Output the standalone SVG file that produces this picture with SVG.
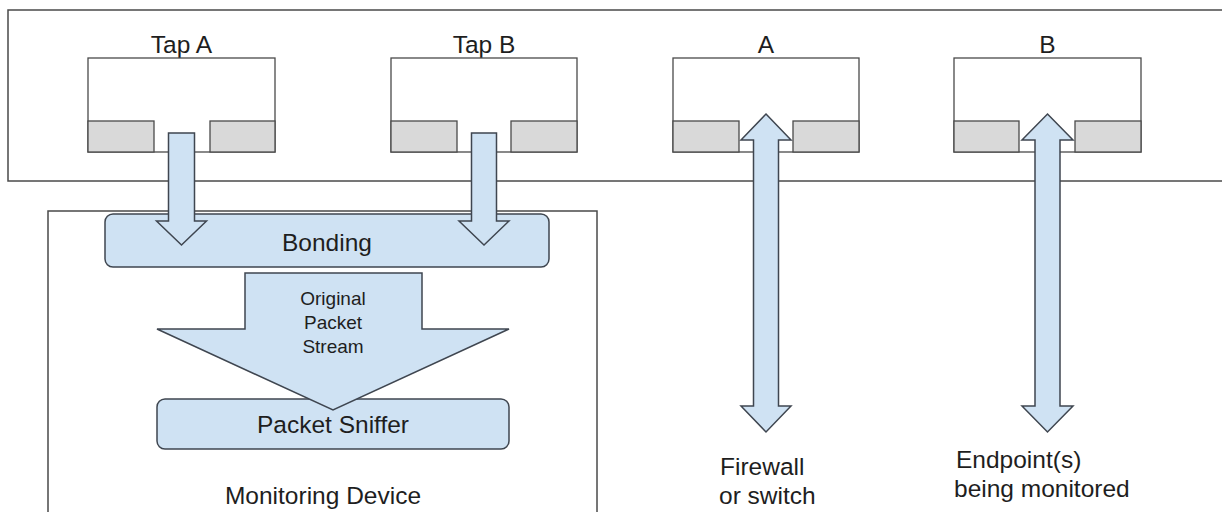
<svg xmlns="http://www.w3.org/2000/svg" width="1222" height="512" viewBox="0 0 1222 512">
<style>
.frame{fill:none;stroke:#4a4a4a;stroke-width:1.5}
.box{fill:#ffffff;stroke:#4a4a4a;stroke-width:1.3}
.port{fill:#d9d9d9;stroke:#4a4a4a;stroke-width:1.3}
.blue{fill:#cfe2f3;stroke:#3f4650;stroke-width:1.5;stroke-linejoin:miter}
.t{font-family:"Liberation Sans",Arial,sans-serif;font-size:24.5px;fill:#1e1e1e;text-anchor:middle}
.s{font-family:"Liberation Sans",Arial,sans-serif;font-size:19px;fill:#1e1e1e;text-anchor:middle}
.l{font-family:"Liberation Sans",Arial,sans-serif;font-size:24.5px;fill:#1e1e1e}
</style>
<rect width="1222" height="512" fill="#ffffff"/>
<g id="network-frame"><rect class="frame" x="8" y="10" width="1240" height="171"/></g>
<g id="monitoring-device">
<rect class="frame" x="48" y="211" width="549" height="320"/>
<text class="t" x="323" y="504">Monitoring Device</text>
</g>
<g id="tap-a">
<text class="t" x="181.5" y="53">Tap A</text>
<rect class="box" x="88" y="58" width="187" height="94"/>
<rect class="port" x="88" y="121" width="66" height="31"/>
<rect class="port" x="210" y="121" width="65" height="31"/>
</g>
<g id="tap-b">
<text class="t" x="484" y="53">Tap B</text>
<rect class="box" x="391" y="58" width="186" height="94"/>
<rect class="port" x="391" y="121" width="66" height="31"/>
<rect class="port" x="511" y="121" width="66" height="31"/>
</g>
<g id="a">
<text class="t" x="766" y="53">A</text>
<rect class="box" x="673" y="58" width="186" height="94"/>
<rect class="port" x="673" y="121" width="66" height="31"/>
<rect class="port" x="793" y="121" width="66" height="31"/>
</g>
<g id="b">
<text class="t" x="1047.5" y="53">B</text>
<rect class="box" x="954" y="58" width="187" height="94"/>
<rect class="port" x="954" y="121" width="65" height="31"/>
<rect class="port" x="1075" y="121" width="66" height="31"/>
</g>
<g id="bonding">
<rect class="blue" x="105" y="214" width="444" height="53" rx="8"/>
<text class="t" x="327" y="251">Bonding</text>
</g>
<g id="packet-sniffer">
<rect class="blue" x="157" y="399" width="352" height="50" rx="8"/>
<text class="t" x="333" y="433">Packet Sniffer</text>
</g>
<g id="connectors">
<polygon class="blue" points="168.5,133 194.5,133 194.5,221 206.5,221 181.5,245 156.5,221 168.5,221"/>
<polygon class="blue" points="471.5,133 496.5,133 496.5,221 509,221 484,245 459,221 471.5,221"/>
<polygon class="blue" points="245,273 422,273 422,329 509,329 333,410 157,329 245,329"/>
<polygon class="blue" points="766,114 791,140 778.5,140 778.5,406 791,406 766,432 741,406 753.5,406 753.5,140 741,140"/>
<polygon class="blue" points="1047.5,114 1073,140 1060,140 1060,406 1073,406 1047.5,432 1022,406 1035,406 1035,140 1022,140"/>
</g>
<g id="stream-label">
<text class="s" x="333" y="305">Original</text>
<text class="s" x="333" y="329">Packet</text>
<text class="s" x="333" y="353">Stream</text>
</g>
<g id="firewall-label">
<text class="l" x="720" y="475">Firewall</text>
<text class="l" x="719" y="504">or switch</text>
</g>
<g id="endpoint-label">
<text class="l" x="956" y="468">Endpoint(s)</text>
<text class="l" x="954" y="497">being monitored</text>
</g>
</svg>
